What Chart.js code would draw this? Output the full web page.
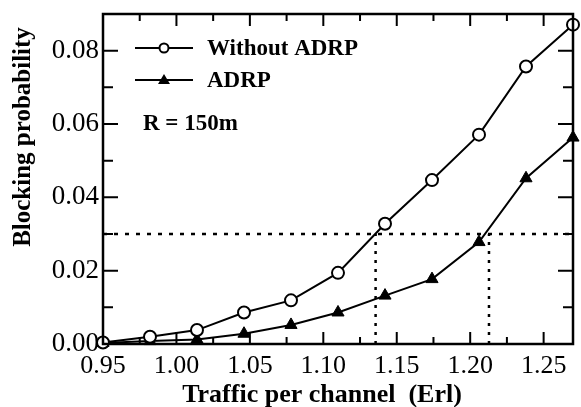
<!DOCTYPE html>
<html>
<head>
<meta charset="utf-8">
<script src="https://cdn.jsdelivr.net/npm/chart.js@4/dist/chart.umd.min.js"></script>
<style>
html,body{margin:0;padding:0;background:#fff;}
#wrap{width:581px;height:407px;position:relative;}
</style>
</head>
<body>
<div id="wrap"><canvas id="c" width="581" height="407"></canvas></div>
<script>
// ---- data ----
const traffic = [0.95, 0.982, 1.014, 1.046, 1.078, 1.11, 1.142, 1.174, 1.206, 1.238, 1.27];
const withoutADRP = [0.0004, 0.002, 0.0038, 0.0086, 0.0119, 0.0194, 0.0328, 0.0447, 0.0571, 0.0757, 0.0871];
const withADRP = [0.0003, 0.0008, 0.0012, 0.0028, 0.0052, 0.0086, 0.0132, 0.0177, 0.0278, 0.0452, 0.0563];
const targetBlocking = 0.03;
const crossTraffic = [1.1356, 1.2128];
const xTickValues = [0.95, 1.00, 1.05, 1.10, 1.15, 1.20, 1.25];
const xMinorValues = [0.975, 1.025, 1.075, 1.125, 1.175, 1.225];
const yTickValues = [0.00, 0.02, 0.04, 0.06, 0.08];
const yMinorValues = [0.01, 0.03, 0.05, 0.07];
const seriesNames = ['Without ADRP', 'ADRP'];
const noteText = 'R = 150m';
const xTitle = 'Traffic per channel  (Erl)';
const yTitle = 'Blocking probability';

const SERIF = '"Liberation Serif", "Times New Roman", serif';

const refDatasets = [
  {data: [{x: 0.95, y: targetBlocking}, {x: 1.27, y: targetBlocking}], borderDash: [4, 7], borderWidth: 2.5},
  {data: [{x: crossTraffic[0], y: 0}, {x: crossTraffic[0], y: targetBlocking}], borderDash: [3, 6], borderWidth: 2.5},
  {data: [{x: crossTraffic[1], y: 0}, {x: crossTraffic[1], y: targetBlocking}], borderDash: [3, 6], borderWidth: 2.5}
].map(d => Object.assign({borderColor: '#000', pointRadius: 0, fill: false, order: 5}, d));

const framePlugin = {
  id: 'frame',
  afterDatasetsDraw(chart) {
    const {ctx, chartArea: a, scales: {x, y}} = chart;
    ctx.save();
    ctx.strokeStyle = '#000';
    ctx.lineWidth = 2.5;
    ctx.strokeRect(a.left, a.top, a.right - a.left, a.bottom - a.top);
    ctx.lineWidth = 2;
    ctx.beginPath();
    xTickValues.forEach(v => {
      const px = x.getPixelForValue(v);
      ctx.moveTo(px, a.bottom); ctx.lineTo(px, a.bottom - 12);
      ctx.moveTo(px, a.top); ctx.lineTo(px, a.top + 12);
    });
    xMinorValues.forEach(v => {
      const px = x.getPixelForValue(v);
      ctx.moveTo(px, a.bottom); ctx.lineTo(px, a.bottom - 7);
      ctx.moveTo(px, a.top); ctx.lineTo(px, a.top + 7);
    });
    yTickValues.forEach(v => {
      const py = y.getPixelForValue(v);
      ctx.moveTo(a.left, py); ctx.lineTo(a.left + 15, py);
      ctx.moveTo(a.right, py); ctx.lineTo(a.right - 15, py);
    });
    yMinorValues.forEach(v => {
      const py = y.getPixelForValue(v);
      ctx.moveTo(a.left, py); ctx.lineTo(a.left + 10, py);
      ctx.moveTo(a.right, py); ctx.lineTo(a.right - 10, py);
    });
    ctx.stroke();

    // legend
    ctx.lineWidth = 2;
    ctx.fillStyle = '#000';
    const lx0 = a.left + 32, lx1 = a.left + 90, lxm = (lx0 + lx1) / 2;
    const r1 = a.top + 34, r2 = a.top + 66;
    ctx.beginPath(); ctx.moveTo(lx0, r1); ctx.lineTo(lx1, r1); ctx.stroke();
    ctx.beginPath(); ctx.arc(lxm, r1, 4.5, 0, Math.PI * 2); ctx.fillStyle = '#fff'; ctx.fill(); ctx.stroke();
    ctx.fillStyle = '#000';
    ctx.beginPath(); ctx.moveTo(lx0, r2); ctx.lineTo(lx1, r2); ctx.stroke();
    ctx.beginPath(); ctx.moveTo(lxm, r2 - 6); ctx.lineTo(lxm + 6, r2 + 4); ctx.lineTo(lxm - 6, r2 + 4); ctx.closePath(); ctx.fill();
    ctx.font = 'bold 23px ' + SERIF;
    ctx.textBaseline = 'middle';
    ctx.textAlign = 'left';
    ctx.fillText(seriesNames[0], a.left + 104, r1 + 1);
    ctx.fillText(seriesNames[1], a.left + 104, r2 + 1);
    ctx.fillText(noteText, a.left + 40, a.top + 110);

    // axis titles
    ctx.font = 'bold 26px ' + SERIF;
    ctx.textAlign = 'center';
    ctx.textBaseline = 'alphabetic';
    ctx.fillText(xTitle, 322, 402);
    ctx.save();
    ctx.translate(30, 137);
    ctx.rotate(-Math.PI / 2);
    ctx.font = 'bold 25px ' + SERIF;
    ctx.fillText(yTitle, 0, 0);
    ctx.restore();
    ctx.restore();
  }
};

new Chart(document.getElementById('c'), {
  type: 'line',
  data: {
    datasets: [
      {
        label: seriesNames[0],
        data: traffic.map((t, i) => ({x: t, y: withoutADRP[i]})),
        borderColor: '#000', borderWidth: 2,
        pointStyle: 'circle', pointRadius: 6, pointBorderWidth: 2,
        pointBackgroundColor: '#fff', pointBorderColor: '#000',
        order: 1
      },
      {
        label: seriesNames[1],
        data: traffic.map((t, i) => ({x: t, y: withADRP[i]})),
        borderColor: '#000', borderWidth: 2,
        pointStyle: 'triangle', pointRadius: 7, pointBorderWidth: 1,
        pointBackgroundColor: '#000', pointBorderColor: '#000',
        order: 2
      },
      ...refDatasets
    ]
  },
  options: {
    responsive: false,
    animation: false,
    clip: false,
    layout: {padding: {top: 14, right: 2, left: 0, bottom: 0}},
    plugins: {legend: {display: false}, tooltip: {enabled: false}},
    scales: {
      x: {
        type: 'linear', min: 0.95, max: 1.27,
        afterBuildTicks: s => { s.ticks = xTickValues.map(v => ({value: v})); },
        afterFit: s => { s.height = 63; s.paddingLeft = 0; s.paddingRight = 0; },
        grid: {display: false, drawTicks: false},
        border: {display: false},
        ticks: {color: '#000', font: {family: SERIF, size: 26}, padding: 7, maxRotation: 0, autoSkip: false,
                callback: v => Number(v).toFixed(2)}
      },
      y: {
        type: 'linear', min: 0, max: 0.09,
        afterBuildTicks: s => { s.ticks = yTickValues.map(v => ({value: v})); },
        afterFit: s => { s.width = 103; s.paddingTop = 0; s.paddingBottom = 0; },
        grid: {display: false, drawTicks: false},
        border: {display: false},
        ticks: {color: '#000', font: {family: SERIF, size: 27}, padding: 4,
                callback: v => Number(v).toFixed(2)}
      }
    }
  },
  plugins: [framePlugin]
});
</script>
</body>
</html>
